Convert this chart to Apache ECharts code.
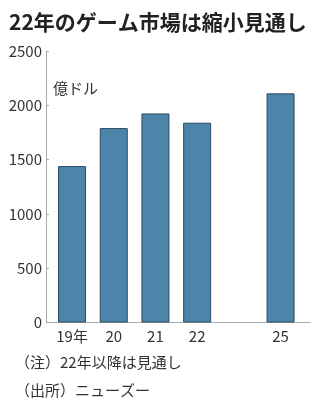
<!DOCTYPE html>
<html><head><meta charset="utf-8">
<script src="https://cdn.jsdelivr.net/npm/echarts@6/dist/echarts.min.js"></script>
<style>html,body{margin:0;padding:0;background:#fff}#c{width:319px;height:405px}</style>
</head><body><div id="c"></div>
<script>
const categories = ['19年', '20', '21', '22', '', '25'];
const values = [1440, 1790, 1925, 1840, null, 2110];
const yTicks = [0, 500, 1000, 1500, 2000, 2500];
const titleText = '22年のゲーム市場は縮小見通し';
const unitText = '億ドル';
const noteText = '（注）22年以降は見通し';
const sourceText = '（出所）ニューズー';

const FONT = '"Noto Sans CJK JP", "Noto Sans", sans-serif';
const chart = echarts.init(document.getElementById('c'), null, {renderer: 'canvas'});
const gTop = 51, gBottom = 82.5;
chart.setOption({
  animation: false,
  backgroundColor: '#fff',
  title: [
    {text: titleText, left: 9, top: 10, padding: 0,
     textStyle: {fontFamily: FONT, fontSize: 21, fontWeight: 'bold', color: '#222', lineHeight: 24}},
    {text: unitText, left: 53, top: 79, padding: 0,
     textStyle: {fontFamily: FONT, fontSize: 15, fontWeight: 'normal', color: '#333', lineHeight: 18}},
    {text: noteText, left: 15, top: 353, padding: 0,
     textStyle: {fontFamily: FONT, fontSize: 15, fontWeight: 'normal', color: '#333', lineHeight: 18}},
    {text: sourceText, left: 15, top: 381, padding: 0,
     textStyle: {fontFamily: FONT, fontSize: 15, fontWeight: 'normal', color: '#333', lineHeight: 18}}
  ],
  grid: [
    {left: 46, right: 9, top: gTop, bottom: gBottom},
    {left: 51.2, width: 250.2, top: gTop, bottom: gBottom}
  ],
  xAxis: [
    {gridIndex: 0, type: 'category', data: [''], axisLine: {lineStyle: {color: '#aaa', width: 1}},
     axisTick: {show: false}, axisLabel: {show: false}},
    {gridIndex: 1, type: 'category', data: categories, axisLine: {show: false}, axisTick: {show: false},
     axisLabel: {fontFamily: FONT, fontSize: 15, color: '#333', margin: 6, interval: 0}}
  ],
  yAxis: [
    {gridIndex: 0, type: 'value', min: yTicks[0], max: yTicks[yTicks.length - 1], interval: 500,
     axisLine: {show: true, lineStyle: {color: '#aaa', width: 1}},
     axisTick: {show: true, inside: true, length: 3, lineStyle: {color: '#aaa'}},
     splitLine: {show: false},
     axisLabel: {fontFamily: FONT, fontSize: 15, color: '#333', margin: 4, formatter: v => String(v)}},
    {gridIndex: 1, type: 'value', min: yTicks[0], max: yTicks[yTicks.length - 1], show: false, splitLine: {show: false}}
  ],
  series: [{
    type: 'bar', xAxisIndex: 1, yAxisIndex: 1, data: values, barWidth: 28,
    itemStyle: {color: '#4d84aa', borderColor: '#2a4a62', borderWidth: 1}
  }]
});
</script></body></html>
